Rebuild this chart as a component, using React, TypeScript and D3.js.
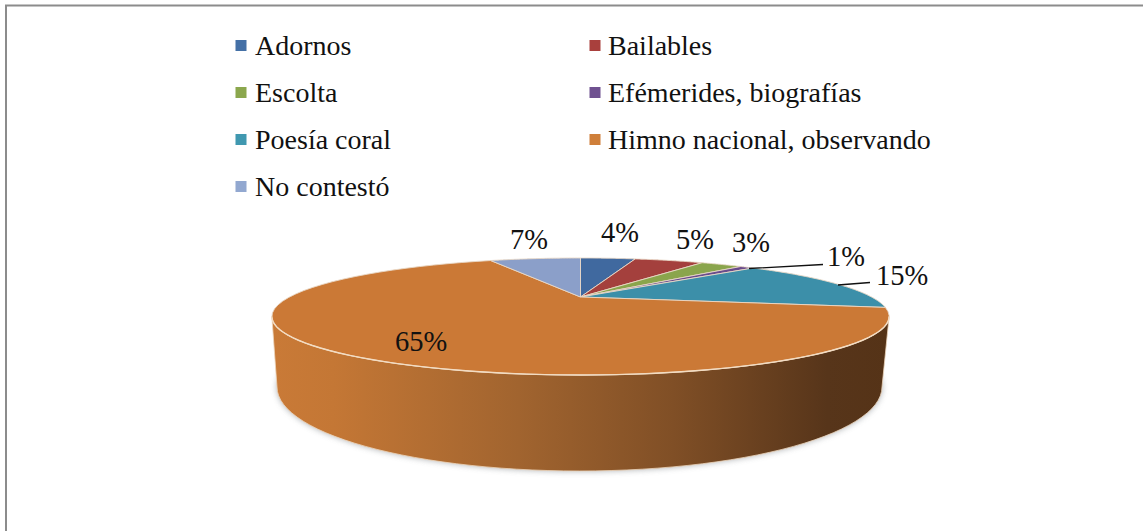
import React from "react";
import * as d3 from "d3";

const categories = ["Adornos", "Bailables", "Escolta", "Efémerides, biografías", "Poesía coral", "Himno nacional, observando", "No contestó"];
const values = [4, 5, 3, 1, 15, 65.4, 6.6];
const valueLabels = ["4%", "5%", "3%", "1%", "15%", "65%", "7%"];
const colors = ["#40699f", "#a4403d", "#8aa54c", "#6a4c8c", "#3c8fa9", "#cb7936", "#8b9fc9"];
const legendColors = ["#4470a6", "#a9403d", "#8ba74d", "#6f5190", "#4098b0", "#cf7f3a", "#92a8d0"];
const labelAnchors: [number, number][] = [[620, 233], [695, 240], [751, 243], [846, 257], [902, 276], [421, 342], [529, 240]];
const wallStops: [number, string][] = [[0, "#c97a37"], [0.1, "#c47735"], [0.4, "#a1642f"], [0.65, "#804f26"], [0.9, "#57351a"], [1, "#553317"]];

const FONT = "'Liberation Serif', serif";
const APEX: [number, number] = [580.5, 297];
const A = 291, B = 52, P = 1 / 3;

// projective view of the pie disc: a = clockwise from the top
const project = (a: number): [number, number] => {
  const w = 1 + P * Math.cos(a);
  return [APEX[0] + (A * Math.sin(a)) / w, APEX[1] - (B * Math.cos(a)) / w];
};
const line = d3.line<[number, number]>();
const sample = (a0: number, a1: number) => d3.range(0, 61).map((i) => a0 + ((a1 - a0) * i) / 60);

const pie = d3.pie<number>().value((d) => d).sort(null);
const arcs = pie(values);

const wedge = (a0: number, a1: number) => line([APEX, ...sample(a0, a1).map(project)]) + "Z";

const rimR = Math.acos(-P), rimL = 2 * Math.PI - rimR;
const BOT = { cx: 579.5, cy: 387, rx: 302.5, ry: 84 };
const bottomPts = sample(0, Math.PI).map((t): [number, number] => [BOT.cx - BOT.rx * Math.cos(t), BOT.cy + BOT.ry * Math.sin(t)]);
const topFront = sample(rimR, rimL).map(project);
const wallPath = line([...bottomPts, ...topFront]) + "Z";
const bottomFull = line(d3.range(0, 121).map((i): [number, number] => {
  const t = (i / 120) * 2 * Math.PI;
  return [BOT.cx + BOT.rx * Math.cos(t), BOT.cy + BOT.ry * Math.sin(t)];
})) + "Z";

export default function App() {
  const rowY = d3.scalePoint<number>().domain([0, 1, 2, 3]).range([46, 187]);
  return (
    <svg width={1143} height={531} style={{ position: "absolute", left: 0, top: 0, background: "#fff" }}>
      <defs>
        <linearGradient id="wall" gradientUnits="userSpaceOnUse" x1={272} x2={889} y1={0} y2={0}>
          {wallStops.map(([o, c]) => <stop key={o} offset={o} stopColor={c} />)}
        </linearGradient>
        <filter id="soft" x="-5%" y="-10%" width="110%" height="120%"><feGaussianBlur stdDeviation="3" /></filter>
      </defs>
      <path d="M6 531V5.5H1143" fill="none" stroke="#8c8c8c" strokeWidth={2} />
      {categories.map((c, i) => {
        const col = i % 2, row = Math.floor(i / 2), y = rowY(row)!;
        return (
          <g key={c}>
            <rect x={col ? 589.5 : 235.5} y={y - 6} width={11} height={11} fill={legendColors[i]} />
            <text x={col ? 608 : 255} y={y} dy="0.33em" fontFamily={FONT} fontSize={28} fill="#111">{c}</text>
          </g>
        );
      })}
      <path d={bottomFull} fill="#8f9397" opacity={0.75} filter="url(#soft)" />
      <path d={wallPath} fill="url(#wall)" stroke="#ecd5bd" strokeWidth={0.8} />
      {arcs.map((a, i) => (
        <path key={i} d={wedge(a.startAngle, a.endAngle)} fill={colors[i]} stroke="#e9d8c6" strokeWidth={0.9} strokeLinejoin="round" />
      ))}
      <path d={line(topFront)!} fill="none" stroke="#f3dcc2" strokeWidth={1.4} />
      <path d="M749 268.5L823 264.5M838 285L870 282.5" fill="none" stroke="#111" strokeWidth={1.3} />
      {valueLabels.map((l, i) => (
        <text key={i} x={labelAnchors[i][0]} y={labelAnchors[i][1]} dy="0.33em" textAnchor="middle" fontFamily={FONT} fontSize={28.5} fill="#111">{l}</text>
      ))}
    </svg>
  );
}
